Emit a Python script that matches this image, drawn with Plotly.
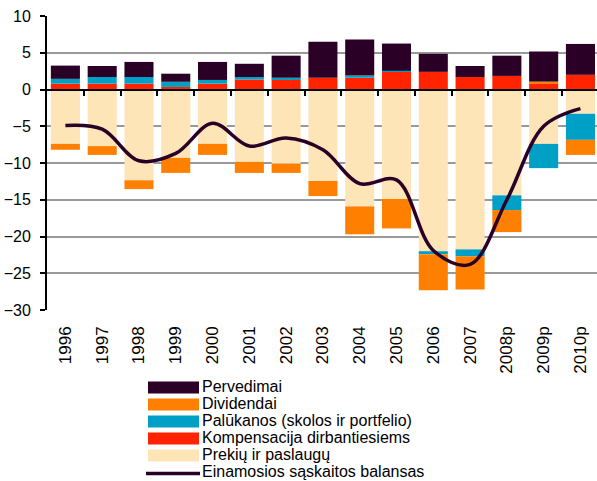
import plotly.graph_objects as go

years = ['1996', '1997', '1998', '1999', '2000', '2001', '2002', '2003',
         '2004', '2005', '2006', '2007', '2008p', '2009p', '2010p']
prekiu = [-7.4, -7.7, -12.35, -9.3, -7.4, -9.85, -10.1, -12.45,
          -15.9, -14.9, -22.0, -21.75, -14.4, -7.4, -3.3]
kompensacija = [0.8, 0.8, 0.8, 0.35, 0.8, 1.35, 1.35, 1.6,
                1.6, 2.4, 2.4, 1.7, 1.85, 0.8, 2.0]
palukanos = [0.65, 0.9, 0.9, 0.7, 0.5, 0.35, 0.25, 0.0,
             0.3, 0.15, -0.4, -0.95, -2.0, -3.3, -3.55]
dividendai = [-0.8, -1.2, -1.2, -2.05, -1.5, -1.5, -1.25, -2.05,
              -3.8, -4.0, -4.9, -4.5, -3.0, 0.27, -2.05]
pervedimai = [1.8, 1.5, 2.05, 1.1, 2.45, 1.8, 3.0, 4.9,
              4.9, 3.7, 2.45, 1.5, 2.75, 4.1, 4.2]
balansas = [-4.9, -5.4, -9.7, -8.7, -4.6, -7.7, -6.6, -8.2,
            -12.8, -12.3, -21.9, -23.8, -15.0, -5.0, -2.6]

names = ['Prekių ir paslaugų', 'Kompensacija dirbantiesiems',
         'Palūkanos (skolos ir portfelio)', 'Dividendai', 'Pervedimai']
line_name = 'Einamosios sąskaitos balansas'
colors = ['#FDE5B8', '#FF2300', '#00A0C6', '#FF8000', '#2B0027']
line_color = '#2B0027'

FONT = 'Liberation Sans, Arial, sans-serif'
W, H = 597, 481
L, R, T, B = 47, 0, 16, 171
PW, PH = W - L - R, H - T - B


def px(x):
    return (x - L) / PW


def py(y):
    return (H - B - y) / PH


fig = go.Figure()
series = [prekiu, kompensacija, palukanos, dividendai, pervedimai]
xs = list(range(len(years)))
for name, vals, col in zip(names, series, colors):
    fig.add_trace(go.Bar(x=xs, y=vals, name=name, marker_color=col,
                         marker_line_width=0, showlegend=False))
fig.add_trace(go.Scatter(x=xs, y=balansas, name=line_name, mode='lines',
                         line=dict(color=line_color, width=3.5, shape='spline',
                                   smoothing=1),
                         showlegend=False))
# dummy trace for the zero-crossing axis
fig.add_trace(go.Scatter(x=[None], y=[None], xaxis='x2', yaxis='y',
                         showlegend=False, hoverinfo='skip'))

# custom legend
legend_items = [(names[4], colors[4]), (names[3], colors[3]),
                (names[2], colors[2]), (names[1], colors[1]),
                (names[0], colors[0])]
shapes = []
annotations = []
row0, step = 386.7, 17
LEG_FONT = dict(family=FONT, size=16, color='black')
for i, (nm, col) in enumerate(legend_items):
    cy = row0 + step * i
    shapes.append(dict(type='rect', xref='paper', yref='paper',
                       x0=px(148), x1=px(199), y0=py(cy + 6.7), y1=py(cy - 5.3),
                       fillcolor=col, line_width=0))
    annotations.append(dict(xref='paper', yref='paper', x=px(202), y=py(cy),
                            xanchor='left', yanchor='middle', text=nm,
                            showarrow=False, borderpad=0, borderwidth=0,
                            font=LEG_FONT))
cy = row0 + step * 5
shapes.append(dict(type='line', xref='paper', yref='paper',
                   x0=px(146), x1=px(200), y0=py(cy + 1.8), y1=py(cy + 1.8),
                   line=dict(color=line_color, width=3.5)))
annotations.append(dict(xref='paper', yref='paper', x=px(202), y=py(cy),
                        xanchor='left', yanchor='middle', text=line_name,
                        showarrow=False, borderpad=0, borderwidth=0,
                        font=LEG_FONT))

fig.update_layout(
    width=W, height=H,
    margin=dict(l=L, r=R, t=T, b=B, pad=0, autoexpand=False),
    paper_bgcolor='white', plot_bgcolor='white',
    barmode='relative', bargap=0.21,
    font=dict(family=FONT, color='black'),
    shapes=shapes, annotations=annotations,
    xaxis=dict(range=[-0.5, 14.45], tickmode='array', tickvals=xs,
               ticktext=years, tickangle=-90, ticks='', automargin=False,
               tickfont=dict(size=17, family=FONT, color='black'),
               ticklabelstandoff=12,
               showgrid=False, zeroline=False, showline=False),
    xaxis2=dict(overlaying='x', anchor='free', position=0.75, side='bottom',
                range=[-0.5, 14.45], tickmode='array', automargin=False,
                tickvals=[i + 0.5 for i in range(14)],
                showticklabels=False, ticks='outside', ticklen=5, tickwidth=2,
                tickcolor='black', showline=True, linecolor='black',
                linewidth=2, showgrid=False, zeroline=False),
    yaxis=dict(range=[-30, 10], dtick=5, tick0=0, showgrid=True,
               automargin=False,
               gridcolor='#999999', gridwidth=2, zeroline=False,
               showline=True, linecolor='black', linewidth=2,
               ticks='outside', ticklen=5, tickwidth=2, tickcolor='black',
               tickfont=dict(size=16, family=FONT, color='black'),
               ticklabelstandoff=6),
)

fig.write_html('out.html',
               config={'displayModeBar': False},
               post_script="document.body.style.margin='0px';"
                           "document.body.style.overflow='hidden';")
